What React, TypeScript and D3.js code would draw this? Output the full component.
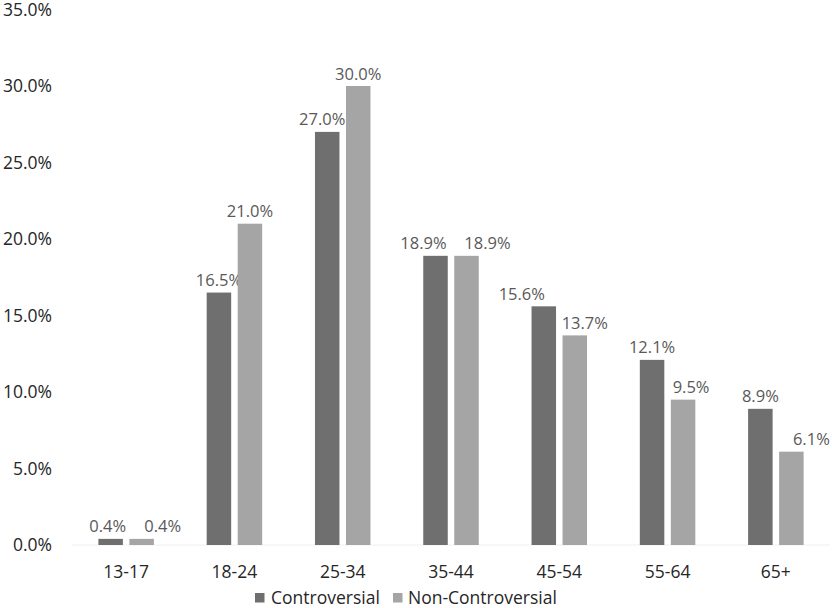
import React from 'react';
import * as d3 from 'd3';

const categories = ['13-17', '18-24', '25-34', '35-44', '45-54', '55-64', '65+'];
const controversial = [0.4, 16.5, 27.0, 18.9, 15.6, 12.1, 8.9];
const nonControversial = [0.4, 21.0, 30.0, 18.9, 13.7, 9.5, 6.1];
const seriesNames = ['Controversial', 'Non-Controversial'];
const yTicks = [0, 5, 10, 15, 20, 25, 30, 35];

// labels were nudged sideways in the original, px from the bar centre
const labelShift = [
    [-3, 0, -5, -12, -22, 0, 0],
    [21, 0, 0, 21, 10, 8, 20]
];

const colors = ['#6f6f6f', '#a5a5a5'];
const font = "'Open Sans', 'Noto Sans', sans-serif";

const width = 832;
const height = 608;
const margin = {top: 9.5, right: 2, bottom: 63, left: 72};

const App = () => {
    const x = d3.scaleBand().domain(categories).range([margin.left, width - margin.right]);
    const y = d3.scaleLinear().domain([0, 35]).range([height - margin.bottom, margin.top]);
    const series = [controversial, nonControversial];

    const barW = 24.5;
    const gap = 6.5;
    const offsets = [-gap / 2 - barW, gap / 2];

    return (
        <svg width={width} height={height} style={{position: 'absolute', left: 0, top: 0}}>
            <rect width={width} height={height} fill='#fff'/>
            {yTicks.map(t => (
                <text key={t} x={52} y={y(t)} dy='0.36em' textAnchor='end' fontSize='17.5px' fontFamily={font} fill='#262626'>
                    {t.toFixed(1) + '%'}
                </text>
            ))}
            <line x1={margin.left} x2={width - margin.right} y1={y(0)} y2={y(0)} stroke='#efefef' strokeWidth={1}/>
            {categories.map((c, i) => {
                const cx = x(c) + x.bandwidth() / 2;
                return (
                    <g key={c}>
                        {series.map((s, k) => (
                            <g key={k}>
                                <rect x={cx + offsets[k]} y={y(s[i])} width={barW} height={y(0) - y(s[i])} fill={colors[k]}/>
                                <text x={cx + offsets[k] + barW / 2 + labelShift[k][i]} y={y(s[i]) - 6.5} textAnchor='middle' fontSize='16.5px' fontFamily={font} fill='#595959'>
                                    {s[i].toFixed(1) + '%'}
                                </text>
                            </g>
                        ))}
                        <text x={cx} y={578} textAnchor='middle' fontSize='17.5px' fontFamily={font} fill='#262626'>{c}</text>
                    </g>
                );
            })}
            <g fontFamily={font} fontSize='17.5px' fill='#262626'>
                <rect x={255} y={593} width={9.5} height={9.5} fill={colors[0]}/>
                <text x={271} y={604}>{seriesNames[0]}</text>
                <rect x={393} y={593} width={9.5} height={9.5} fill={colors[1]}/>
                <text x={408} y={604}>{seriesNames[1]}</text>
            </g>
        </svg>
    );
};

export default App;
